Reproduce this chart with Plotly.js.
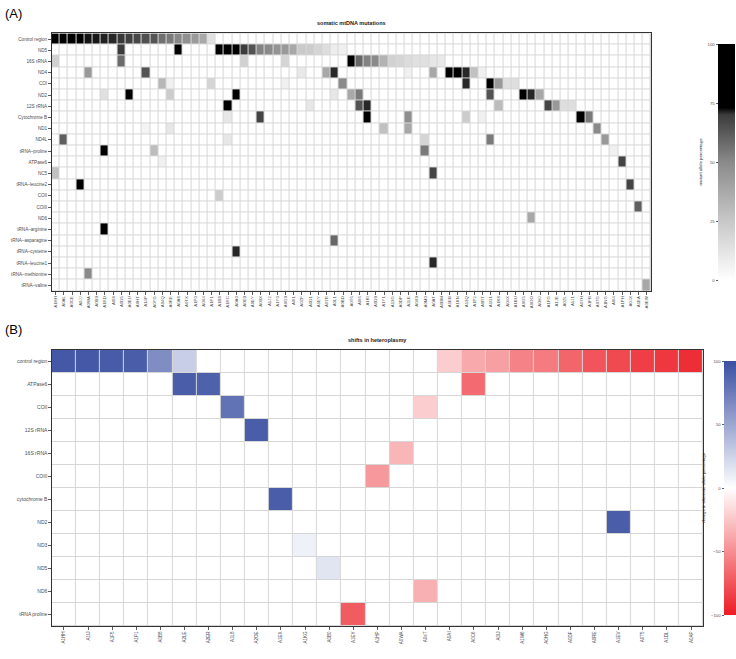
<!DOCTYPE html>
<html><head><meta charset="utf-8">
<script src="https://cdn.plot.ly/plotly-3.0.1.min.js"></script>
<style>html,body{margin:0;padding:0;background:#fff}</style>
</head><body><div id="chart" style="width:736px;height:659px"></div>
<script>
// ---------- Panel A: somatic mtDNA mutations ----------
const mutGenes = ["Control region","ND5","16S rRNA","ND4","COI","ND2","12S rRNA","Cytochrome B","ND1","ND4L","tRNA\u2013proline","ATPase6","NC5","tRNA\u2013leucine2","COII","COIII","ND6","tRNA\u2013arginine","tRNA\u2013asparagine","tRNA\u2013cysteine","tRNA\u2013leucine1","tRNA\u2013methionine","tRNA\u2013valine"];
const mutSamples = ["A1HH","A0AL","A0CE","A0JJ","A0WA","A0B9","A1RD","A0I8","A0D5","A0EU","A0HT","A14P","A0YG","A04Q","A0RE","A0A8","A0TX","A1P0","A0X4","A1P1","A1B8","A1RC","A0A0","A0E9","A0EY","A09X","A1J2","A1Y0","A0G9","A0I1","A0ZF","A0D1","A1EY","A07R","A0L1","A0BD","A0T6","A0I6","A1KI","A0D9","A1Y1","A13G","A0DP","A2LE","A0X9","A0M0","A0AT","A0BM","A1EB","A1KN","A13Q","A1P2","A0RT","A1G1","A1K8","A04X","A1BU","A0G5","A0OO","A0HJ","A1FG","A1JE","A0ZL","A1J1","A07H","A1FB","A07G","A1NG","A0I4","A1PH","A0JX","A1EA","A0EW"];
// long-form mutation records: gene, sample, mutant allele percentage
const mutGene = [
 "Control region","Control region","Control region","Control region","Control region","Control region","Control region","Control region","Control region","Control region","Control region","Control region","Control region","Control region","Control region","Control region","Control region","Control region","Control region","Control region",
 "ND5","ND5","ND5","ND5","ND5","ND5","ND5","ND5","ND5","ND5","ND5","ND5","ND5","ND5","ND5","ND5","ND5","ND5",
 "16S rRNA","16S rRNA","16S rRNA","16S rRNA","16S rRNA","16S rRNA","16S rRNA","16S rRNA","16S rRNA","16S rRNA","16S rRNA","16S rRNA","16S rRNA","16S rRNA","16S rRNA","16S rRNA",
 "ND4","ND4","ND4","ND4","ND4","ND4","ND4","ND4","ND4","ND4","ND4","ND4",
 "COI","COI","COI","COI","COI","COI","COI","COI","COI","COI",
 "ND2","ND2","ND2","ND2","ND2","ND2","ND2","ND2","ND2","ND2","ND2",
 "12S rRNA","12S rRNA","12S rRNA","12S rRNA","12S rRNA","12S rRNA","12S rRNA","12S rRNA","12S rRNA",
 "Cytochrome B","Cytochrome B","Cytochrome B","Cytochrome B","Cytochrome B","Cytochrome B","Cytochrome B","Cytochrome B",
 "ND1","ND1","ND1","ND1","ND1",
 "ND4L","ND4L","ND4L","ND4L","ND4L",
 "tRNA\u2013proline","tRNA\u2013proline","tRNA\u2013proline","tRNA\u2013proline",
 "ATPase6","ATPase6","NC5","NC5","tRNA\u2013leucine2","tRNA\u2013leucine2","COII","COIII","ND6",
 "tRNA\u2013arginine","tRNA\u2013asparagine","tRNA\u2013cysteine","tRNA\u2013leucine1","tRNA\u2013methionine","tRNA\u2013valine"];
const mutSample = [
 "A1HH","A0AL","A0CE","A0JJ","A0WA","A0B9","A1RD","A0I8","A0D5","A0EU","A0HT","A14P","A0YG","A04Q","A0RE","A0A8","A0TX","A1P0","A0X4","A1P1",
 "A0D5","A0A8","A1B8","A1RC","A0A0","A0E9","A0EY","A09X","A1J2","A1Y0","A0G9","A0I1","A0ZF","A0D1","A1EY","A07R","A0L1","A0BD",
 "A1HH","A0D5","A0E9","A0G9","A0T6","A0I6","A1KI","A0D9","A1Y1","A13G","A0DP","A2LE","A0X9","A0M0","A0AT","A0BM",
 "A0WA","A14P","A0ZF","A07R","A0L1","A2LE","A0AT","A1EB","A1KN","A13Q","A1P2","A0RT",
 "A04Q","A0RE","A1P1","A0G9","A0BD","A13Q","A1G1","A1K8","A04X","A1BU",
 "A1RD","A0EU","A0RE","A0A0","A0L1","A0T6","A0I6","A1G1","A0G5","A0OO","A0HJ",
 "A1RC","A0D1","A0I6","A1KI","A1K8","A1FG","A1JE","A0ZL","A1J1",
 "A1RC","A09X","A1KI","A2LE","A13Q","A0RT","A07H","A1FB",
 "A14P","A0RE","A1Y1","A2LE","A07G",
 "A0AL","A1RC","A0M0","A1G1","A1NG",
 "A1RD","A0YG","A0M0","A0I4",
 "A04Q","A1PH","A1HH","A0AT","A0JJ","A0JX","A1B8","A1EA","A0OO",
 "A1RD","A0L1","A0A0","A0AT","A0WA","A0EW"];
const mutValue = [
 95,92,90,88,72,71.8,71.3,71,70.2,69,66.9,64.9,63.6,56.7,54,50.5,47.6,43.5,37.9,14,
 70,80,85,82,80,70,64,52,50,46,44,38,24,23,19,15,8,7,
 21,58,21,19,90,59,52,50,34,21,19,16,14,14,11,10,
 44,64,10,38,71,7,38,95,90,71,28,7,
 32,7,19,7,50,71,74,44,15,15,
 14,88,23,85,11,38,54,64,95,71,38,
 88,11,64,71,30,68,44,15,15,
 11,68,74,48,23,7,95,54,
 5,11,28,38,50,
 61,11,19,54,44,
 88,30,54,7,
 7,68,28,68,90,68,23,61,38,
 74,59,71,71,50,38];

// ---------- Panel B: shifts in heteroplasmy ----------
const hetGenes = ["control region","ATPase6","COII","12S rRNA","16S rRNA","COIII","cytochrome B","ND2","ND3","ND5","ND6","tRNA proline"];
const hetSamples = ["A1HH","A1IJ","A1F5","A1P1","A0B8","A2LE","A2ER","A1L8","A2OE","A1EX","A1KG","A0B0","A1EY","A1HP","A0WA","A0eT","A0AI","A0C6","A0IJ","A1W6","A0HG","A0DF","A0RE","A1EV","A0T5","A1DL","A0AP"];
const hetGene = [
 "control region","control region","control region","control region","control region","control region",
 "control region","control region","control region","control region","control region","control region","control region","control region","control region","control region","control region",
 "ATPase6","ATPase6","ATPase6","COII","COII","12S rRNA","16S rRNA","COIII","cytochrome B","ND2","ND3","ND5","ND6","tRNA proline"];
const hetSample = [
 "A1HH","A1IJ","A1F5","A1P1","A0B8","A2LE",
 "A0AI","A0C6","A0IJ","A1W6","A0HG","A0DF","A0RE","A1EV","A0T5","A1DL","A0AP",
 "A2LE","A2ER","A0C6","A1L8","A0eT","A2OE","A0WA","A1HP","A1EX","A1EV","A1KG","A0B0","A0eT","A1EY"];
const hetValue = [
 95,95,93,92,65,28,
 -22,-38,-42,-55,-58,-68,-75,-80,-85,-88,-92,
 92,90,-65,80,-22,92,-32,-45,92,92,8,15,-35,-72];

function buildZ(genes, samples, g, s, v){
  const z = genes.map(() => samples.map(() => 0));
  for (let i = 0; i < g.length; i++) {
    z[genes.indexOf(g[i])][samples.indexOf(s[i])] = v[i];
  }
  return z;
}
const zA = buildZ(mutGenes, mutSamples, mutGene, mutSample, mutValue);
const zB = buildZ(hetGenes, hetSamples, hetGene, hetSample, hetValue);

const W = 736, H = 659;
const px = x => x / W, py = y => 1 - y / H;
const FONT = "Liberation Sans, Arial, sans-serif";
const TXT = "#4d4d4d";

// geometry (pixels)
const A = {l: 51.7, r: 652.7, t: 33.4, b: 291};
const B = {l: 52, r: 705, t: 350, b: 626};
const cbA = {x: 720, t: 44, b: 280};
const cbB = {x: 726, t: B.t + 11, b: B.b - 11};

const traces = [
  {type: 'heatmap', x: mutSamples, y: mutGenes, z: zA, xaxis: 'x', yaxis: 'y',
   zmin: 0, zmax: 100, xgap: 1, ygap: 1,
   colorscale: [[0,'#ffffff'],[0.25,'#c8c8c8'],[0.5,'#8a8a8a'],[0.70,'#3c3c3c'],[0.73,'#000000'],[1,'#000000']],
   colorbar: {x: px(cbA.x), xanchor: 'left', xpad: 0, ypad: 0, thickness: 17,
     y: py(cbA.t), yanchor: 'top', len: (cbA.b - cbA.t) / H, outlinewidth: 0,
     showticklabels: false, ticks: ''}},
  {type: 'heatmap', x: hetSamples, y: hetGenes, z: zB, xaxis: 'x2', yaxis: 'y2',
   zmin: -100, zmax: 100, xgap: 1, ygap: 1,
   colorscale: [[0,'#EC1C24'],[0.5,'#ffffff'],[1,'#3A4FA2']],
   colorbar: {x: px(cbB.x), xanchor: 'left', xpad: 0, ypad: 0, thickness: 12,
     y: py(cbB.t), yanchor: 'top', len: (cbB.b - cbB.t) / H, outlinewidth: 0,
     showticklabels: false, ticks: ''}},
  {type: 'scatter', x: [], y: [], xaxis: 'x3', yaxis: 'y3', showlegend: false},
  {type: 'scatter', x: [], y: [], xaxis: 'x4', yaxis: 'y4', showlegend: false}
];

const catX = (dom, anchor, fs) => ({domain: dom, anchor: anchor, type: 'category', tickangle: -90,
  ticks: 'outside', ticklen: 2.5, tickwidth: 0.8, tickcolor: '#333', showgrid: false, zeroline: false,
  showline: true, linecolor: '#333', linewidth: 1, mirror: true, fixedrange: true,
  tickfont: {family: FONT, size: fs, color: TXT}, automargin: false});
const catY = (dom, anchor, fs) => ({domain: dom, anchor: anchor, type: 'category', autorange: 'reversed',
  ticks: 'outside', ticklen: 2.5, tickwidth: 0.8, tickcolor: '#333', showgrid: false, zeroline: false,
  showline: true, linecolor: '#333', linewidth: 1, mirror: true, fixedrange: true,
  tickfont: {family: FONT, size: fs, color: TXT}, automargin: false});
const legY = (dom, pos, rng, vals, title, fs) => ({domain: dom, anchor: 'free', position: pos, side: 'left',
  range: rng, tickvals: vals, ticks: 'outside', ticklen: 2.5, tickwidth: 0.8, tickcolor: '#333',
  showline: false, showgrid: false, zeroline: false, fixedrange: true,
  tickfont: {family: FONT, size: fs, color: TXT},
  title: {text: title, font: {family: FONT, size: fs, color: '#222'}, standoff: 4}});

const layout = {
  width: W, height: H, margin: {l: 0, r: 0, t: 0, b: 0},
  paper_bgcolor: '#ffffff', plot_bgcolor: '#d6d6d6', showlegend: false,
  xaxis: catX([px(A.l), px(A.r)], 'y', 4.3),
  yaxis: catY([py(A.b), py(A.t)], 'x', 4.6),
  xaxis2: catX([px(B.l), px(B.r)], 'y2', 4.6),
  yaxis2: catY([py(B.b), py(B.t)], 'x2', 5),
  xaxis3: {domain: [0.99, 1], anchor: 'y3', visible: false},
  yaxis3: legY([py(cbA.b), py(cbA.t)], px(cbA.x), [0, 100], [0, 25, 50, 75, 100], 'mutant allele percentage', 4.3),
  xaxis4: {domain: [0.99, 1], anchor: 'y4', visible: false},
  yaxis4: legY([py(cbB.b), py(cbB.t)], px(cbB.x), [-100, 100], [-100, -50, 0, 50, 100], 'change in alternate allele percentage', 4.3),
  annotations: [
    {text: '(A)', x: px(3), y: py(4), xref: 'paper', yref: 'paper', xanchor: 'left', yanchor: 'top', showarrow: false,
     font: {family: FONT, size: 13, color: '#000'}},
    {text: '<b>somatic mtDNA mutations</b>', x: px((A.l + A.r) / 2), y: py(A.t - 5), xref: 'paper', yref: 'paper',
     xanchor: 'center', yanchor: 'bottom', showarrow: false, font: {family: FONT, size: 5.5, color: '#222'}},
    {text: '(B)', x: px(3), y: py(B.t - 30), xref: 'paper', yref: 'paper', xanchor: 'left', yanchor: 'top', showarrow: false,
     font: {family: FONT, size: 13, color: '#000'}},
    {text: '<b>shifts in heteroplasmy</b>', x: px((B.l + B.r) / 2), y: py(B.t - 5), xref: 'paper', yref: 'paper',
     xanchor: 'center', yanchor: 'bottom', showarrow: false, font: {family: FONT, size: 5.5, color: '#222'}}
  ]
};

Plotly.newPlot('chart', traces, layout, {displayModeBar: false, staticPlot: true});
</script></body></html>
